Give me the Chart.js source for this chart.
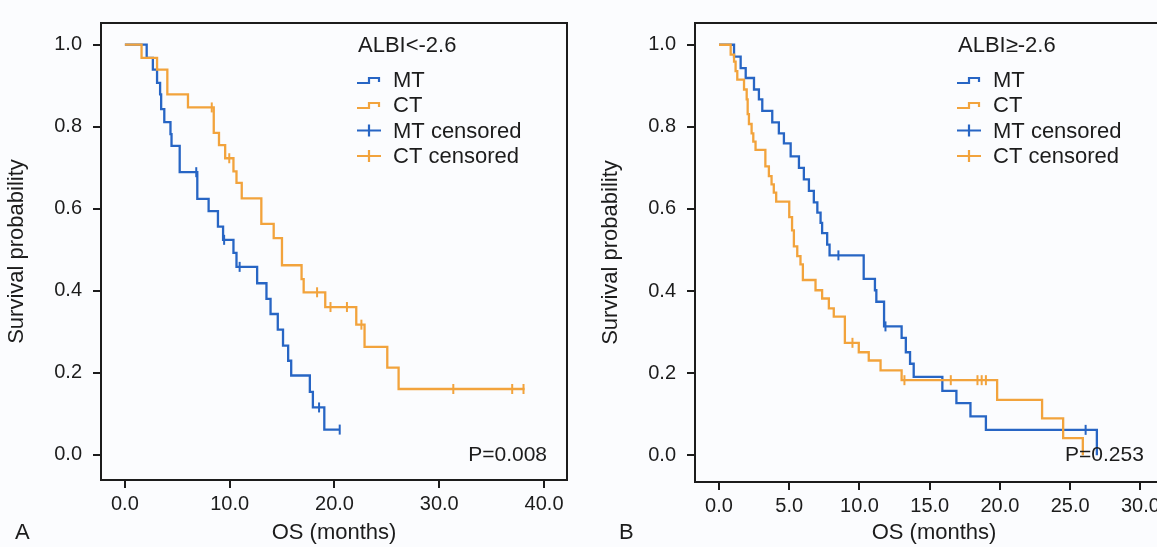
<!DOCTYPE html>
<html>
<head>
<meta charset="utf-8">
<script src="https://cdn.jsdelivr.net/npm/chart.js@4.4.0/dist/chart.umd.min.js"></script>
<style>
  html, body { margin: 0; padding: 0; background: #fbfcfe; overflow: hidden; }
  body { width: 1157px; height: 547px; position: relative; }
  canvas { position: absolute; top: 0; }
  #chartA { left: 0; }
  #chartB { left: 580px; }
</style>
</head>
<body>
<canvas id="chartA" width="580" height="547"></canvas>
<canvas id="chartB" width="600" height="547"></canvas>
<script>
// Kaplan-Meier OS curves, MT vs CT, split by ALBI grade

const FONT = '"Liberation Sans", Arial, Helvetica, sans-serif';
const INK = '#1c1c1c';
const BLUE = '#2765c4';
const ORANGE = '#f2a33c';

const seriesNames = ['MT', 'CT', 'MT censored', 'CT censored'];
const yTicks = [0, 0.2, 0.4, 0.6, 0.8, 1.0];

// ---- panel A : ALBI<-2.6 ----
const titleA = 'ALBI<-2.6';
const pValueA = 'P=0.008';
const xTicksA = [0, 10, 20, 30, 40];

const mtTimeA = [0, 2.08, 2.67, 3.07, 3.36, 3.46, 3.76, 4.35, 4.45, 5.23, 6.91, 7.99, 8.88, 9.37, 10.36, 10.65, 12.62, 13.51, 13.9, 14.59, 15.09, 15.58, 15.87, 17.65, 17.94, 19.03, 20.5];
const mtSurvA = [1.0, 0.968, 0.939, 0.907, 0.879, 0.843, 0.811, 0.782, 0.753, 0.689, 0.624, 0.594, 0.556, 0.524, 0.492, 0.458, 0.418, 0.380, 0.343, 0.305, 0.266, 0.229, 0.193, 0.153, 0.115, 0.061, 0.061];
const mtCensTimeA = [6.81, 9.47, 10.95, 18.53, 20.5];
const mtCensSurvA = [0.689, 0.524, 0.458, 0.115, 0.061];

const ctTimeA = [0, 1.59, 3.07, 4.05, 6.02, 8.48, 8.98, 9.57, 10.36, 10.65, 11.15, 13.02, 14.2, 14.99, 16.86, 17.06, 19.12, 22.08, 22.87, 25.04, 26.12, 38.14];
const ctSurvA = [1.0, 0.968, 0.939, 0.879, 0.847, 0.785, 0.755, 0.723, 0.691, 0.663, 0.625, 0.563, 0.528, 0.462, 0.428, 0.396, 0.360, 0.317, 0.263, 0.212, 0.160, 0.160];
const ctCensTimeA = [8.29, 9.96, 18.34, 19.62, 21.19, 22.57, 31.34, 36.96, 38.04];
const ctCensSurvA = [0.847, 0.723, 0.396, 0.360, 0.360, 0.317, 0.160, 0.160, 0.160];

// ---- panel B : ALBI>=-2.6 ----
const titleB = 'ALBI\u2265-2.6';
const pValueB = 'P=0.253';
const xTicksB = [0, 5, 10, 15, 20, 25, 30];

const mtTimeB = [0, 1.07, 1.54, 1.9, 2.49, 2.84, 3.08, 3.79, 4.26, 4.62, 5.1, 5.69, 6.04, 6.4, 6.75, 7.0, 7.23, 7.34, 7.7, 7.87, 10.3, 11.1, 11.2, 11.75, 13.0, 13.3, 13.6, 13.86, 15.9, 16.9, 17.9, 19.0, 26.9];
const mtSurvB = [1.0, 0.971, 0.943, 0.919, 0.891, 0.867, 0.839, 0.811, 0.784, 0.760, 0.728, 0.700, 0.672, 0.644, 0.616, 0.591, 0.566, 0.541, 0.513, 0.487, 0.430, 0.402, 0.374, 0.314, 0.286, 0.251, 0.223, 0.191, 0.157, 0.127, 0.095, 0.062, 0];
const mtCensTimeB = [8.5, 11.85, 26.1];
const mtCensSurvB = [0.487, 0.314, 0.062];

const ctTimeB = [0, 0.83, 1.07, 1.18, 1.3, 1.78, 1.97, 2.04, 2.13, 2.32, 2.44, 2.6, 3.3, 3.55, 3.74, 3.9, 4.07, 5.0, 5.2, 5.33, 5.57, 5.8, 5.97, 6.87, 7.34, 7.82, 8.17, 8.96, 9.95, 10.66, 11.5, 13.0, 19.8, 23.0, 24.5, 25.9];
const ctSurvB = [1.0, 0.976, 0.959, 0.936, 0.915, 0.891, 0.867, 0.831, 0.807, 0.784, 0.764, 0.744, 0.704, 0.680, 0.660, 0.640, 0.618, 0.580, 0.548, 0.509, 0.485, 0.465, 0.427, 0.402, 0.382, 0.358, 0.338, 0.274, 0.251, 0.231, 0.207, 0.183, 0.135, 0.090, 0.042, 0];
const ctCensTimeB = [9.5, 13.2, 16.5, 18.4, 18.7, 19.0];
const ctCensSurvB = [0.274, 0.183, 0.183, 0.183, 0.183, 0.183];

function toPoints(times, surv) {
    return times.map((t, i) => ({ x: t, y: surv[i] }));
}

function stepIcon(ctx, x, y, color) {
    ctx.strokeStyle = color;
    ctx.lineWidth = 2.2;
    ctx.beginPath();
    ctx.moveTo(x, y + 3);
    ctx.lineTo(x + 12, y + 3);
    ctx.lineTo(x + 12, y - 2);
    ctx.lineTo(x + 22, y - 2);
    ctx.lineTo(x + 22, y + 2);
    ctx.stroke();
}

function censorIcon(ctx, x, y, color) {
    ctx.strokeStyle = color;
    ctx.lineWidth = 2.2;
    ctx.beginPath();
    ctx.moveTo(x, y);
    ctx.lineTo(x + 24, y);
    ctx.moveTo(x + 12, y - 6);
    ctx.lineTo(x + 12, y + 6);
    ctx.stroke();
}

function makePanel(canvasId, p) {
    // box around the plot + legend, p-value and panel letter
    const decor = {
        id: 'decor_' + canvasId,
        afterDraw(chart) {
            const ctx = chart.ctx;
            const a = chart.chartArea;
            ctx.save();
            ctx.strokeStyle = INK;
            ctx.lineWidth = 2;
            ctx.strokeRect(a.left, a.top, a.right - a.left, a.bottom - a.top);

            ctx.fillStyle = INK;
            ctx.font = '22px ' + FONT;
            ctx.textBaseline = 'middle';
            ctx.textAlign = 'left';
            ctx.fillText(p.legendTitle, p.legendX + 1, 46);

            const rows = [80, 105, 130.5, 156];
            const colors = [BLUE, ORANGE, BLUE, ORANGE];
            seriesNames.forEach((name, i) => {
                if (i < 2) stepIcon(ctx, p.legendX, rows[i], colors[i]);
                else censorIcon(ctx, p.legendX, rows[i], colors[i]);
                ctx.fillStyle = INK;
                ctx.fillText(name, p.legendX + 36, rows[i] + 1);
            });

            ctx.font = '21px ' + FONT;
            ctx.textAlign = p.pAlign;
            ctx.fillText(p.pValue, p.pX, 455);

            ctx.font = '22px ' + FONT;
            ctx.textAlign = 'left';
            ctx.fillText(p.letter, p.letterX, 533);
            ctx.restore();
        }
    };

    const censorStyle = {
        type: 'scatter',
        pointStyle: 'line',
        rotation: 90,
        pointRadius: 5,
        pointBorderWidth: 2,
        showLine: false
    };

    new Chart(document.getElementById(canvasId), {
        type: 'line',
        data: {
            datasets: [
                {
                    label: 'CT',
                    data: toPoints(p.ctTime, p.ctSurv),
                    borderColor: ORANGE,
                    borderWidth: 2.3,
                    stepped: 'before',
                    pointRadius: 0,
                    fill: false
                },
                {
                    label: 'MT',
                    data: toPoints(p.mtTime, p.mtSurv),
                    borderColor: BLUE,
                    borderWidth: 2.3,
                    stepped: 'before',
                    pointRadius: 0,
                    fill: false
                },
                Object.assign({
                    label: 'CT censored',
                    data: toPoints(p.ctCensTime, p.ctCensSurv),
                    borderColor: ORANGE,
                    backgroundColor: ORANGE
                }, censorStyle),
                Object.assign({
                    label: 'MT censored',
                    data: toPoints(p.mtCensTime, p.mtCensSurv),
                    borderColor: BLUE,
                    backgroundColor: BLUE
                }, censorStyle)
            ]
        },
        options: {
            responsive: false,
            animation: false,
            layout: { padding: { top: 13, right: p.padRight, left: 0, bottom: 0 } },
            plugins: {
                legend: { display: false },
                tooltip: { enabled: false }
            },
            scales: {
                x: {
                    type: 'linear',
                    min: p.xMin,
                    max: p.xMax,
                    afterBuildTicks: (s) => { s.ticks = p.xTicks.map(v => ({ value: v })); },
                    afterFit: (s) => { s.height = 547 - p.bottom; },
                    border: { display: true, color: INK, width: 2 },
                    grid: { drawOnChartArea: false, drawTicks: true, tickLength: 8, color: INK, lineWidth: 2 },
                    ticks: {
                        color: INK,
                        padding: 4,
                        maxRotation: 0,
                        autoSkip: false,
                        font: { family: FONT, size: 20 },
                        callback: (v) => Number(v).toFixed(1)
                    },
                    title: {
                        display: true,
                        text: 'OS (months)',
                        color: INK,
                        font: { family: FONT, size: 22 },
                        padding: { top: 0, bottom: 1 }
                    }
                },
                y: {
                    type: 'linear',
                    min: p.yMin,
                    max: p.yMax,
                    afterBuildTicks: (s) => { s.ticks = yTicks.map(v => ({ value: v })); },
                    afterFit: (s) => { s.width = p.yWidth; },
                    border: { display: true, color: INK, width: 2 },
                    grid: { drawOnChartArea: false, drawTicks: true, tickLength: 8, color: INK, lineWidth: 2 },
                    ticks: {
                        color: INK,
                        padding: 11,
                        font: { family: FONT, size: 20 },
                        callback: (v) => Number(v).toFixed(1)
                    },
                    title: {
                        display: true,
                        text: 'Survival probability',
                        color: INK,
                        font: { family: FONT, size: 22 },
                        padding: { top: p.yTitlePad, bottom: 0 }
                    }
                }
            }
        },
        plugins: [decor]
    });
}

makePanel('chartA', {
    legendTitle: titleA, pValue: pValueA, letter: 'A',
    xTicks: xTicksA, xMin: -2.28, xMax: 42.19,
    yMin: -0.062, yMax: 1.053,
    padRight: 13, yWidth: 101, bottom: 480, yTitlePad: 4,
    legendX: 357, pX: 547, pAlign: 'right', letterX: 15,
    mtTime: mtTimeA, mtSurv: mtSurvA, mtCensTime: mtCensTimeA, mtCensSurv: mtCensSurvA,
    ctTime: ctTimeA, ctSurv: ctSurvA, ctCensTime: ctCensTimeA, ctCensSurv: ctCensSurvA
});

makePanel('chartB', {
    legendTitle: titleB, pValue: pValueB, letter: 'B',
    xTicks: xTicksB, xMin: -1.71, xMax: 32.32,
    yMin: -0.065, yMax: 1.053,
    padRight: 5, yWidth: 115, bottom: 482, yTitlePad: 18,
    legendX: 377, pX: 485, pAlign: 'left', letterX: 39,
    mtTime: mtTimeB, mtSurv: mtSurvB, mtCensTime: mtCensTimeB, mtCensSurv: mtCensSurvB,
    ctTime: ctTimeB, ctSurv: ctSurvB, ctCensTime: ctCensTimeB, ctCensSurv: ctCensSurvB
});
</script>
</body>
</html>
